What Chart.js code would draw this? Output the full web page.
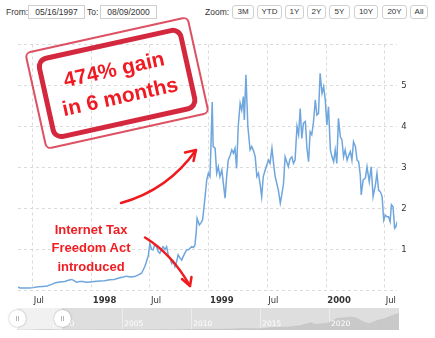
<!DOCTYPE html>
<html><head><meta charset="utf-8">
<script src="https://cdn.jsdelivr.net/npm/chart.js@4"></script>
<style>
html,body{margin:0;padding:0;background:#fff;width:435px;height:338px;overflow:hidden;}
body{position:relative;font-family:"Liberation Sans",Arial,sans-serif;}
.abs{position:absolute;}
.lbl{top:5px;font-size:8.5px;color:#333;line-height:14px;}
.box{top:5px;height:14px;border:1px solid #cfcfcf;box-sizing:border-box;font-size:8.5px;color:#333;text-align:center;line-height:12px;background:#fff;}
.btn{top:5px;height:14px;border:1px solid #d0d0d0;border-radius:3px;box-sizing:border-box;font-size:8px;color:#333;text-align:center;line-height:12px;background:#fff;}
#stamp{left:33px;top:33px;width:168px;height:100px;box-sizing:border-box;border:2px solid rgba(212,38,60,0.8);border-radius:6px;transform:rotate(-12.5deg);}
#stampIn{position:absolute;left:7px;top:5.5px;width:150px;height:85px;box-sizing:border-box;border:5px solid #d4283e;border-radius:11px;display:flex;align-items:center;justify-content:center;text-align:center;color:#f01a22;font-weight:bold;font-size:21px;line-height:28px;}
#note{left:31px;top:220.7px;width:120px;text-align:center;color:#f01e23;font-weight:bold;font-size:13px;line-height:18.6px;}
.navbg{top:308px;height:22px;}
.handle{width:17px;height:17px;border-radius:50%;background:#fff;box-shadow:0 0 2px rgba(0,0,0,0.35);top:310px;}
.handle:before,.handle:after{content:"";position:absolute;top:6px;width:1px;height:5px;background:#b5b5b5;}
.handle:before{left:7px;}
.handle:after{left:9px;}
</style></head>
<body>
<div class="abs lbl" style="left:6px">From:</div>
<div class="abs box" style="left:28px;width:57px">05/16/1997</div>
<div class="abs lbl" style="left:87px">To:</div>
<div class="abs box" style="left:100px;width:57px">08/09/2000</div>
<div class="abs lbl" style="left:205px">Zoom:</div>
<div class="abs btn" style="left:232px;width:22px">3M</div>
<div class="abs btn" style="left:257px;width:25px">YTD</div>
<div class="abs btn" style="left:285px;width:19px">1Y</div>
<div class="abs btn" style="left:307px;width:19px">2Y</div>
<div class="abs btn" style="left:329px;width:21px">5Y</div>
<div class="abs btn" style="left:354px;width:24px">10Y</div>
<div class="abs btn" style="left:382px;width:25px">20Y</div>
<div class="abs btn" style="left:410px;width:18px">All</div>

<canvas id="main" class="abs" style="left:0;top:0" width="435" height="306"></canvas>

<div class="abs navbg" style="left:17px;width:45px;background:#f1f1f1"></div>
<div class="abs navbg" style="left:62px;width:337px;background:#dedede"></div>
<canvas id="nav" class="abs" style="left:17px;top:308px" width="382" height="22"></canvas>
<div class="abs handle" style="left:8.5px"></div>
<div class="abs handle" style="left:53.5px"></div>

<div id="stamp" class="abs"><div id="stampIn">474% gain<br>in 6 months</div></div>
<div id="note" class="abs">Internet Tax<br>Freedom Act<br>introduced</div>
<svg class="abs" style="left:0;top:0" width="435" height="338">
<g fill="none" stroke="#f01a1e" stroke-width="2.5" stroke-linecap="round" stroke-linejoin="round">
<path d="M121,203 Q168,190 196,150"/>
<path d="M185,152.5 L196,150 L193.5,161"/>
<path d="M145,237.5 Q172,254 190,286"/>
<path d="M182,279 L190,286 L191.5,277"/>
</g></svg>

<script>
const rangeStart = '1997-05-16';
const rangeEnd = '2000-08-09';
const dates = ['1997-05-16','1997-05-23','1997-06-06','1997-06-20','1997-07-03','1997-07-18','1997-08-01','1997-08-15','1997-08-29','1997-09-10','1997-09-23','1997-10-09','1997-10-20','1997-10-30','1997-11-07','1997-11-14','1997-11-25','1997-12-04','1997-12-15','1997-12-26','1998-01-09','1998-01-26','1998-02-10','1998-02-26','1998-03-12','1998-03-29','1998-04-10','1998-04-19','1998-05-01','1998-05-15','1998-05-26','1998-06-05','1998-06-15','1998-06-22','1998-06-26','1998-07-01','1998-07-06','1998-07-11','1998-07-16','1998-07-22','1998-07-27','1998-08-01','1998-08-06','1998-08-11','1998-08-17','1998-08-22','1998-08-27','1998-09-01','1998-09-07','1998-09-12','1998-09-17','1998-09-22','1998-09-27','1998-10-02','1998-10-08','1998-10-14','1998-10-23','1998-10-30','1998-11-08','1998-11-13','1998-11-18','1998-11-22','1998-11-25','1998-12-02','1998-12-07','1998-12-12','1998-12-16','1998-12-20','1998-12-25','1998-12-30','1999-01-04','1999-01-07','1999-01-11','1999-01-14','1999-01-20','1999-01-25','1999-01-30','1999-02-04','1999-02-10','1999-02-15','1999-02-20','1999-02-25','1999-03-02','1999-03-08','1999-03-13','1999-03-18','1999-03-23','1999-03-28','1999-04-02','1999-04-08','1999-04-13','1999-04-18','1999-04-21','1999-04-26','1999-05-02','1999-05-09','1999-05-14','1999-05-20','1999-05-25','1999-05-30','1999-06-04','1999-06-09','1999-06-14','1999-06-19','1999-06-25','1999-07-05','1999-07-10','1999-07-16','1999-07-21','1999-07-26','1999-08-05','1999-08-11','1999-08-16','1999-08-21','1999-08-26','1999-09-05','1999-09-10','1999-09-16','1999-09-21','1999-09-26','1999-10-02','1999-10-07','1999-10-12','1999-10-17','1999-10-22','1999-10-28','1999-11-02','1999-11-07','1999-11-12','1999-11-17','1999-11-22','1999-11-28','1999-12-03','1999-12-08','1999-12-13','1999-12-19','1999-12-24','1999-12-29','2000-01-03','2000-01-08','2000-01-14','2000-01-19','2000-01-24','2000-01-29','2000-02-03','2000-02-08','2000-02-14','2000-02-19','2000-02-24','2000-02-29','2000-03-06','2000-03-11','2000-03-16','2000-03-21','2000-03-26','2000-04-01','2000-04-06','2000-04-11','2000-04-16','2000-04-19','2000-04-25','2000-05-02','2000-05-07','2000-05-14','2000-05-20','2000-05-26','2000-06-02','2000-06-07','2000-06-12','2000-06-18','2000-06-23','2000-06-28','2000-07-03','2000-07-08','2000-07-13','2000-07-18','2000-07-22','2000-07-27','2000-08-01','2000-08-05','2000-08-09'];
const prices = [0.08,0.06,0.06,0.06,0.07,0.09,0.1,0.11,0.15,0.19,0.21,0.22,0.25,0.27,0.24,0.2,0.22,0.22,0.2,0.21,0.22,0.23,0.24,0.26,0.27,0.31,0.33,0.35,0.33,0.34,0.38,0.42,0.58,0.75,0.85,1.15,1.0,0.99,1.12,1.07,0.95,0.91,1.0,1.07,1.0,1.07,0.87,0.8,0.66,0.72,0.58,0.7,0.87,0.8,0.74,0.85,0.99,1.0,1.07,1.05,1.1,1.4,1.76,1.6,1.65,1.72,2.0,2.3,2.7,2.86,2.78,3.5,4.6,3.51,3.47,2.86,3.02,2.78,2.94,2.6,2.25,2.78,3.18,3.3,3.43,3.35,3.47,2.98,4.0,4.57,4.4,4.73,4.16,5.26,4.0,3.43,3.51,3.4,3.26,2.78,2.86,2.6,2.29,2.78,2.94,3.18,3.1,3.47,3.1,2.78,2.45,2.13,2.35,2.61,3.26,3.02,3.2,3.26,3.1,3.18,4.0,3.8,4.44,3.71,4.08,4.12,3.47,3.14,3.87,3.8,4.08,4.65,4.28,4.32,5.3,4.81,4.97,4.65,4.04,4.48,3.43,3.26,3.14,3.43,3.1,4.2,3.75,3.67,3.26,3.43,3.18,3.3,3.39,3.18,3.63,3.51,3.18,3.14,2.82,2.33,2.7,2.74,3.02,2.65,3.02,2.29,2.57,2.86,2.45,2.4,2.29,1.72,1.84,1.8,1.8,1.68,2.09,2.04,1.52,1.56,1.68];
const xTickDates = ['1997-07-01','1998-01-01','1998-07-01','1999-01-01','1999-07-01','2000-01-01','2000-07-01'];
const xTickLabels = ['Jul','1998','Jul','1999','Jul','2000','Jul'];
const yTickValues = [0,1,2,3,4,5,6];
const yTickLabels = ['','1','2','3','4','5',''];

const navYears = [1997.37,1998,1998.5,1999,1999.3,1999.95,2000.6,2001,2001.7,2002.5,2003.5,2004,2005,2006.5,2007.9,2008.9,2009.9,2010.9,2011.9,2012.9,2013.9,2014.9,2015.9,2016.9,2017.9,2018.7,2018.99,2019.9,2020.6,2020.99,2021.5,2021.9,2022.5,2022.9,2023.5,2023.99,2024.5,2024.99,2025.07];
const navValues = [0.08,0.25,1,3,5,5,1.7,0.8,0.3,0.8,2,2.5,2,1.5,4.5,2.5,6.7,9,9,12.5,20,15.5,33,37.5,58,100,75,93,160,162,175,168,110,84,130,152,190,220,230];
const navRange = [1997.37, 2025.07];
const navTickYears = [2000,2005,2010,2015,2020];
const navTickLabels = ['2000','2005','2010','2015','2020'];

const t = s => Date.parse(s + 'T00:00:00Z');

new Chart(document.getElementById('main'), {
  type: 'line',
  data: { datasets: [{
    data: dates.map((d, i) => ({ x: t(d), y: prices[i] })),
    borderColor: '#6fa6dd', borderWidth: 1.5, pointRadius: 0, tension: 0, fill: false
  }]},
  options: {
    responsive: false, animation: false, events: [],
    layout: { padding: { left: 17.9, top: 44.5, right: 0, bottom: 0 } },
    plugins: { legend: { display: false }, tooltip: { enabled: false } },
    scales: {
      x: {
        type: 'linear', min: t(rangeStart), max: t(rangeEnd),
        afterBuildTicks: s => { s.ticks = xTickDates.map(d => ({ value: t(d) })); },
        afterFit: s => { s.height = 15.5; },
        grid: { color: '#dadada', drawTicks: false, lineWidth: 1 },
        border: { display: false, dash: [3, 3] },
        ticks: {
          autoSkip: false, maxRotation: 0, minRotation: 0, align: 'start', padding: 5, labelOffset: 1, color: '#333',
          font: c => ({ family: 'DejaVu Sans', size: 8.5, weight: /^\d/.test(xTickLabels[c.index] || '') ? 'bold' : 'normal' }),
          callback: (v, i) => xTickLabels[i]
        }
      },
      y: {
        position: 'right', min: 0, max: 6,
        afterBuildTicks: s => { s.ticks = yTickValues.map(v => ({ value: v })); },
        afterFit: s => { s.width = 435 - 397.2; },
        grid: { color: '#dadada', drawTicks: false, lineWidth: 1 },
        border: { display: false, dash: [3, 3] },
        ticks: { padding: 4, color: '#333', font: { family: 'DejaVu Sans', size: 8.5 }, callback: (v, i) => yTickLabels[i] }
      }
    }
  }
});

const navLabels = {
  id: 'navLabels',
  afterDatasetsDraw(chart) {
    const ctx = chart.ctx, xs = chart.scales.x;
    ctx.save();
    ctx.fillStyle = '#ffffff';
    ctx.font = '7.5px "DejaVu Sans"';
    ctx.textBaseline = 'middle';
    ctx.textAlign = 'left';
    navTickYears.forEach((v, i) => ctx.fillText(navTickLabels[i], xs.getPixelForValue(v) + 2, 16));
    ctx.restore();
  }
};

new Chart(document.getElementById('nav'), {
  type: 'line',
  data: { datasets: [{
    data: navYears.map((y, i) => ({ x: y, y: navValues[i] })),
    borderColor: 'rgba(190,190,190,1)', borderWidth: 0.5, backgroundColor: '#c9c9c9', fill: 'origin', pointRadius: 0, tension: 0
  }]},
  options: {
    responsive: false, animation: false, events: [],
    layout: { padding: 0 },
    plugins: { legend: { display: false }, tooltip: { enabled: false } },
    scales: {
      x: {
        type: 'linear', min: navRange[0], max: navRange[1], z: 1,
        afterBuildTicks: s => { s.ticks = navTickYears.map(v => ({ value: v })); },
        afterFit: s => { s.height = 0; },
        grid: { color: 'rgba(255,255,255,0.45)', drawTicks: false },
        border: { display: false },
        ticks: { display: false }
      },
      y: { display: false, min: 0, max: 300 }
    }
  },
  plugins: [navLabels]
});
</script>
</body></html>
